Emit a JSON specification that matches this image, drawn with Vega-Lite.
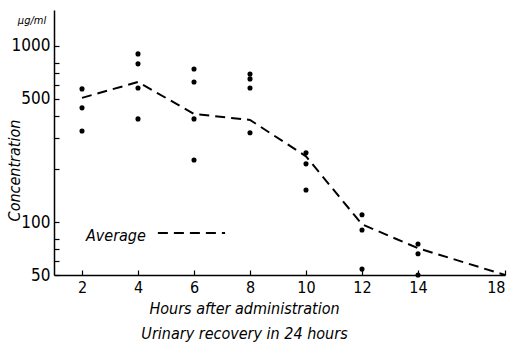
{
  "$schema": "https://vega.github.io/schema/vega-lite/v6.json",
  "width": 451,
  "height": 265,
  "autosize": {"type": "none"},
  "padding": {"left": 54, "top": 10, "right": 3, "bottom": 70},
  "background": "white",
  "config": {
    "view": {"stroke": null},
    "font": "Liberation Sans Narrow, DejaVu Sans Condensed, sans-serif",
    "axis": {
      "domainColor": "black", "domainWidth": 1.5, "tickColor": "black", "tickWidth": 1.2,
      "grid": false, "labelColor": "black", "titleColor": "black",
      "labelFont": "Liberation Sans Narrow, DejaVu Sans Condensed, sans-serif",
      "titleFont": "DejaVu Sans Condensed, Liberation Sans Narrow, sans-serif",
      "titleFontStyle": "italic", "titleFontWeight": "normal"
    }
  },
  "datasets": {
    "obs": [
      {"hour": 2, "conc": 570}, {"hour": 2, "conc": 445}, {"hour": 2, "conc": 329},
      {"hour": 4, "conc": 901}, {"hour": 4, "conc": 791}, {"hour": 4, "conc": 577}, {"hour": 4, "conc": 385},
      {"hour": 6, "conc": 739}, {"hour": 6, "conc": 624}, {"hour": 6, "conc": 385}, {"hour": 6, "conc": 225},
      {"hour": 8, "conc": 693}, {"hour": 8, "conc": 650}, {"hour": 8, "conc": 577}, {"hour": 8, "conc": 321},
      {"hour": 10, "conc": 247}, {"hour": 10, "conc": 214}, {"hour": 10, "conc": 152},
      {"hour": 12, "conc": 110}, {"hour": 12, "conc": 90}, {"hour": 12, "conc": 54},
      {"hour": 14, "conc": 75}, {"hour": 14, "conc": 66}, {"hour": 14, "conc": 50}
    ],
    "avg": [
      {"hour": 2, "conc": 507}, {"hour": 4, "conc": 624}, {"hour": 6, "conc": 411},
      {"hour": 8, "conc": 380}, {"hour": 10, "conc": 236}, {"hour": 12, "conc": 97},
      {"hour": 14, "conc": 71}, {"hour": 18, "conc": 50}
    ]
  },
  "layer": [
    {
      "data": {"name": "avg"},
      "mark": {"type": "line", "color": "black", "strokeWidth": 2, "strokeDash": [10, 6]},
      "encoding": {
        "x": {
          "field": "hour", "type": "quantitative",
          "scale": {"type": "linear", "domain": [1, 14, 18], "range": [0, 364, 451], "zero": false, "nice": false},
          "axis": {
            "values": [2, 4, 6, 8, 10, 12, 14, 18],
            "tickSize": -5, "labelPadding": 9, "labelFontSize": 16,
            "title": ["Hours after administration", "Urinary recovery in 24 hours"],
            "titleFontSize": 16, "titleLineHeight": 25, "titlePadding": 5, "titleX": 190
          }
        },
        "y": {
          "field": "conc", "type": "quantitative",
          "scale": {"type": "log", "domain": [50, 1600], "nice": false},
          "axis": {
            "values": [50, 60, 70, 80, 100, 200, 300, 400, 500, 600, 700, 800, 1000],
            "labelExpr": "indexof([50,100,500,1000], datum.value) >= 0 ? format(datum.value, 'd') : ''",
            "tickSize": -5, "labelPadding": 9, "labelFontSize": 17,
            "title": "Concentration", "titleFontSize": 16,
            "titleX": -32, "titleY": 160
          }
        }
      }
    },
    {
      "data": {"name": "obs"},
      "mark": {"type": "point", "filled": true, "color": "black", "opacity": 1, "size": 26},
      "encoding": {
        "x": {"field": "hour", "type": "quantitative"},
        "y": {"field": "conc", "type": "quantitative"}
      }
    },
    {
      "data": {"values": [{}]},
      "mark": {"type": "rule", "color": "black", "strokeWidth": 2, "strokeDash": [10, 6]},
      "encoding": {
        "x": {"datum": 4.71}, "x2": {"datum": 7.11},
        "y": {"datum": 86.6}
      }
    },
    {
      "data": {"values": [{"label": "Average"}]},
      "mark": {"type": "text", "align": "left", "baseline": "middle", "fontSize": 16, "fontStyle": "italic", "font": "DejaVu Sans Condensed, sans-serif", "color": "black"},
      "encoding": {
        "x": {"datum": 2.14}, "y": {"datum": 83},
        "text": {"field": "label"}
      }
    },
    {
      "data": {"values": [{"label": "μg/ml"}]},
      "mark": {"type": "text", "align": "center", "baseline": "middle", "fontSize": 11, "fontStyle": "italic", "font": "DejaVu Sans Condensed, sans-serif", "color": "black", "dx": -22},
      "encoding": {
        "x": {"datum": 1}, "y": {"datum": 1390},
        "text": {"field": "label"}
      }
    }
  ]
}
